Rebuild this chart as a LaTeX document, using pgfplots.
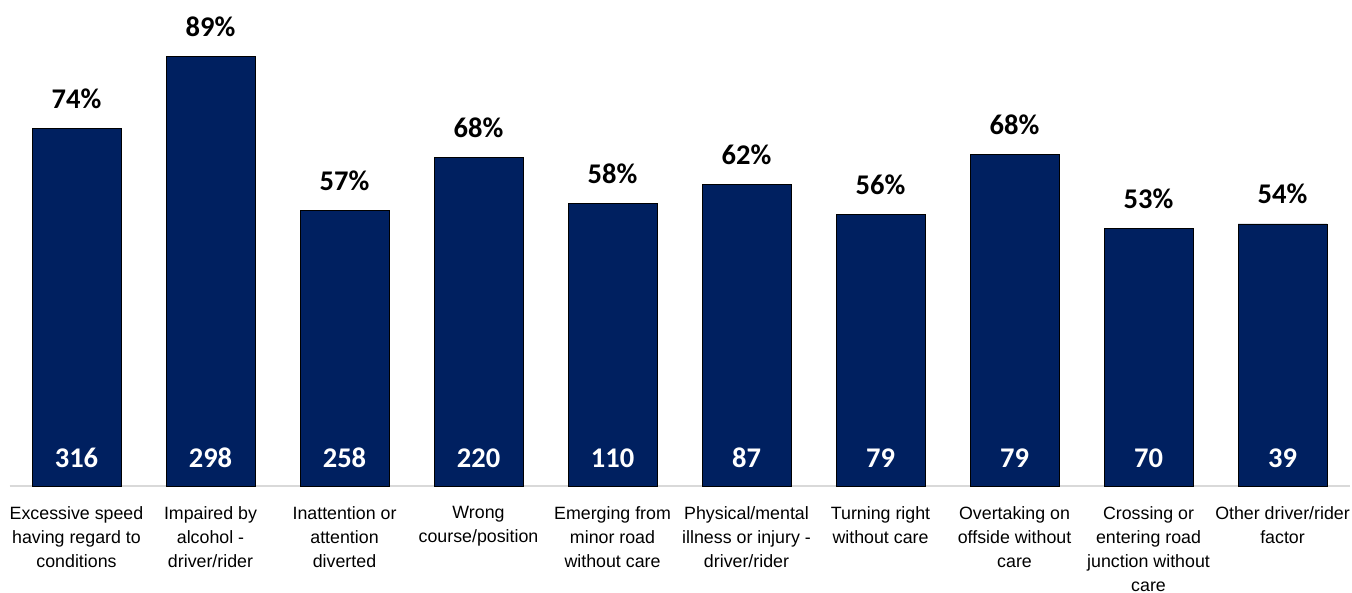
\documentclass[border=0pt]{standalone}
\usepackage{fontspec}
\setmainfont{Liberation Sans}
\newfontfamily\calib{Carlito}
\usepackage{pgfplots}
\usepackage{pgfplotstable}
\pgfplotsset{compat=1.18}
\definecolor{navy}{HTML}{002060}
\definecolor{baseg}{HTML}{D9D9D9}
\pgfplotstableread{
x pct plab n
0 74.0 74 316
1 88.9 89 298
2 56.9 57 258
3 68.0 68 220
4 58.5 58 110
5 62.4 62 87
6 56.1 56 79
7 68.6 68 79
8 53.2 53 70
9 54.2 54 39
}\datatab
\begin{document}
\begin{tikzpicture}
\begin{axis}[
  scale only axis,
  width=1340bp, height=483.5bp,
  xmin=-0.5, xmax=9.5, ymin=0, ymax=100,
  axis x line*=bottom,
  hide y axis,
  axis line style={-, draw=baseg, line width=2bp},
  xtick=data,
  major tick length=0pt,
  xticklabels={
    {Excessive speed\\having regard to\\conditions},
    {Impaired by\\alcohol -\\driver/rider},
    {Inattention or\\attention\\diverted},
    {Wrong\\course/position},
    {Emerging from\\minor road\\without care},
    {Physical/mental\\illness or injury -\\driver/rider},
    {Turning right\\without care},
    {Overtaking on\\offside without\\care},
    {Crossing or\\entering road\\junction without\\care},
    {Other driver/rider\\factor}},
  x tick label style={align=center, font=\fontsize{17.8bp}{24bp}\selectfont, inner sep=0pt, anchor=north, yshift=-20bp},
  clip=false,
]
\addplot[ybar, bar width=89bp, fill=navy, draw=black, line width=0.8bp,
  point meta=explicit symbolic,
  nodes near coords={\pgfplotspointmeta\%},
  every node near coord/.append style={font=\calib\bfseries\fontsize{28.5bp}{30bp}\selectfont, anchor=base, yshift=20bp, inner sep=0pt, text=black}]
  table[x=x, y=pct, meta=plab] {\datatab};
\addplot[draw=none, mark=none,
  point meta=explicit symbolic,
  nodes near coords={\pgfplotspointmeta},
  every node near coord/.append style={font=\calib\bfseries\fontsize{28.5bp}{30bp}\selectfont, anchor=base, yshift=19bp, inner sep=0pt, text=white}]
  table[x=x, y expr=0, meta=n] {\datatab};
\end{axis}
\pgfresetboundingbox
\path (-9.5bp,-107bp) rectangle (1342.5bp,486bp);
\end{tikzpicture}
\end{document}
